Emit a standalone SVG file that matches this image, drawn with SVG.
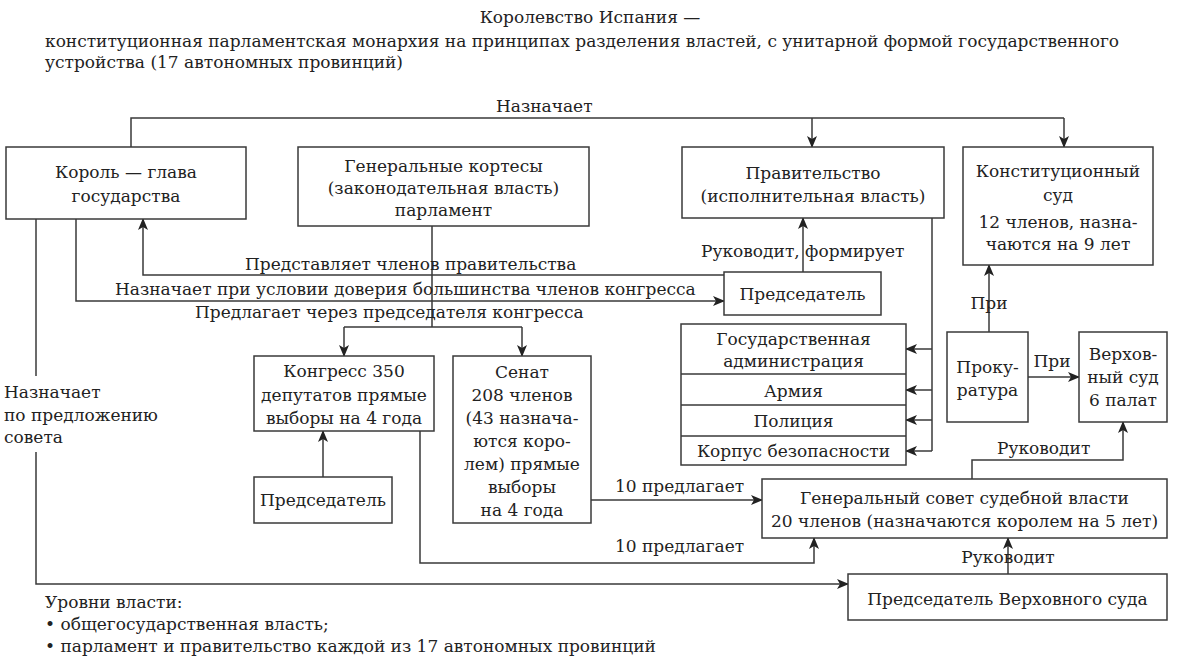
<svg xmlns="http://www.w3.org/2000/svg" width="1182" height="658" viewBox="0 0 1182 658">
<defs>
<style>
text{font-family:"DejaVu Serif","Liberation Serif",serif;font-size:17px;fill:#222}
.c{text-anchor:middle}
.box{fill:#fff;stroke:#3a3a3a;stroke-width:1.5}
.ln{fill:none;stroke:#3a3a3a;stroke-width:1.5}
.ar{marker-end:url(#ah)}
</style>
<marker id="ah" viewBox="0 0 12 10" refX="11" refY="5" markerWidth="12" markerHeight="10" markerUnits="userSpaceOnUse" orient="auto">
<path d="M0,0 L12,5 L0,10 L3,5 z" fill="#222"/>
</marker>
</defs>
<rect width="1182" height="658" fill="#fff"/>
<g id="title">
<text class="c" x="590" y="23">Королевство Испания —</text>
<text x="45" y="47">конституционная парламентская монархия на принципах разделения властей, с унитарной формой государственного</text>
<text x="45" y="68">устройства (17 автономных провинций)</text>
</g>
<g id="connectors">
<path class="ln" d="M131,147 V118 H1064"/>
<path class="ln ar" d="M1064,118 V147"/>
<path class="ln ar" d="M812,118 V147"/>
<path class="ln ar" d="M724,275 H143 V219"/>
<path class="ln ar" d="M76,219 V301 H724"/>
<path class="ln" d="M432,226 V327 M344,327 H522"/>
<path class="ln ar" d="M344,327 V356"/>
<path class="ln ar" d="M522,327 V356"/>
<path class="ln ar" d="M803,272 V218"/>
<path class="ln" d="M932,218 V451"/>
<path class="ln ar" d="M932,349 H906"/>
<path class="ln ar" d="M932,390 H906"/>
<path class="ln ar" d="M932,420 H906"/>
<path class="ln ar" d="M932,451 H906"/>
<path class="ln ar" d="M989,332 V265"/>
<path class="ln ar" d="M1028,377 H1079"/>
<path class="ln ar" d="M972,479 V460 H1123 V422"/>
<path class="ln ar" d="M591,500 H762"/>
<path class="ln ar" d="M420,431 V563 H814 V538"/>
<path class="ln ar" d="M1008,574 V538"/>
<path class="ln" d="M36,219 V376"/>
<path class="ln ar" d="M36,452 V584 H848"/>
<path class="ln ar" d="M323,477 V431"/>
<text x="496" y="112">Назначает</text>
<text x="245" y="270">Представляет членов правительства</text>
<text x="115" y="295">Назначает при условии доверия большинства членов конгресса</text>
<text x="195" y="318">Предлагает через председателя конгресса</text>
<text x="701" y="257">Руководит, формирует</text>
<text class="c" x="989" y="309">При</text>
<text class="c" x="1052" y="367">При</text>
<text x="997" y="454">Руководит</text>
<text x="615" y="492">10 предлагает</text>
<text x="615" y="552">10 предлагает</text>
<text class="c" x="1008" y="563">Руководит</text>
<text x="4" y="398">Назначает</text>
<text x="4" y="421">по предложению</text>
<text x="4" y="443">совета</text>
</g>
<g id="king">
<rect class="box" x="6" y="147" width="240" height="72"/>
<text class="c" x="126" y="178">Король — глава</text>
<text class="c" x="126" y="202">государства</text>
</g>
<g id="cortes">
<rect class="box" x="298" y="147" width="291" height="79"/>
<text class="c" x="443.5" y="172">Генеральные кортесы</text>
<text class="c" x="443.5" y="194">(законодательная власть)</text>
<text class="c" x="443.5" y="216">парламент</text>
</g>
<g id="government">
<rect class="box" x="682" y="147" width="262" height="71"/>
<text class="c" x="813" y="179">Правительство</text>
<text class="c" x="813" y="202">(исполнительная власть)</text>
</g>
<g id="constcourt">
<rect class="box" x="963" y="147" width="190" height="118"/>
<text class="c" x="1058" y="177">Конституционный</text>
<text class="c" x="1058" y="201">суд</text>
<text class="c" x="1058" y="228">12 членов, назна-</text>
<text class="c" x="1058" y="250">чаются на 9 лет</text>
</g>
<g id="govchair">
<rect class="box" x="724" y="272" width="157" height="43"/>
<text class="c" x="802.5" y="300">Председатель</text>
</g>
<g id="executive">
<rect class="box" x="681" y="324" width="225" height="141"/>
<path class="ln" d="M681,374 H906 M681,405 H906 M681,436 H906"/>
<text class="c" x="793.5" y="345">Государственная</text>
<text class="c" x="793.5" y="367">администрация</text>
<text class="c" x="793.5" y="397">Армия</text>
<text class="c" x="793.5" y="427">Полиция</text>
<text class="c" x="793.5" y="457">Корпус безопасности</text>
</g>
<g id="prosecutor">
<rect class="box" x="947" y="332" width="81" height="90"/>
<text class="c" x="987.5" y="373">Проку-</text>
<text class="c" x="987.5" y="396">ратура</text>
</g>
<g id="supreme">
<rect class="box" x="1079" y="332" width="88" height="90"/>
<text class="c" x="1123" y="360">Верхов-</text>
<text class="c" x="1123" y="383">ный суд</text>
<text class="c" x="1123" y="406">6 палат</text>
</g>
<g id="congress">
<rect class="box" x="254" y="356" width="180" height="75"/>
<text class="c" x="344" y="377">Конгресс 350</text>
<text class="c" x="344" y="401">депутатов прямые</text>
<text class="c" x="344" y="424">выборы на 4 года</text>
</g>
<g id="senate">
<rect class="box" x="453" y="356" width="138" height="167"/>
<text class="c" x="522" y="378">Сенат</text>
<text class="c" x="522" y="401">208 членов</text>
<text class="c" x="522" y="424">(43 назнача-</text>
<text class="c" x="522" y="447">ются коро-</text>
<text class="c" x="522" y="470">лем) прямые</text>
<text class="c" x="522" y="493">выборы</text>
<text class="c" x="522" y="516">на 4 года</text>
</g>
<g id="congchair">
<rect class="box" x="254" y="477" width="138" height="46"/>
<text class="c" x="323" y="506">Председатель</text>
</g>
<g id="council">
<rect class="box" x="762" y="479" width="405" height="59"/>
<text class="c" x="964.5" y="504">Генеральный совет судебной власти</text>
<text class="c" x="964.5" y="527">20 членов (назначаются королем на 5 лет)</text>
</g>
<g id="supchair">
<rect class="box" x="848" y="574" width="319" height="46"/>
<text class="c" x="1007.5" y="605">Председатель Верховного суда</text>
</g>
<g id="legend">
<text x="45" y="608">Уровни власти:</text>
<text x="45" y="630">• общегосударственная власть;</text>
<text x="45" y="652">• парламент и правительство каждой из 17 автономных провинций</text>
</g>
</svg>
